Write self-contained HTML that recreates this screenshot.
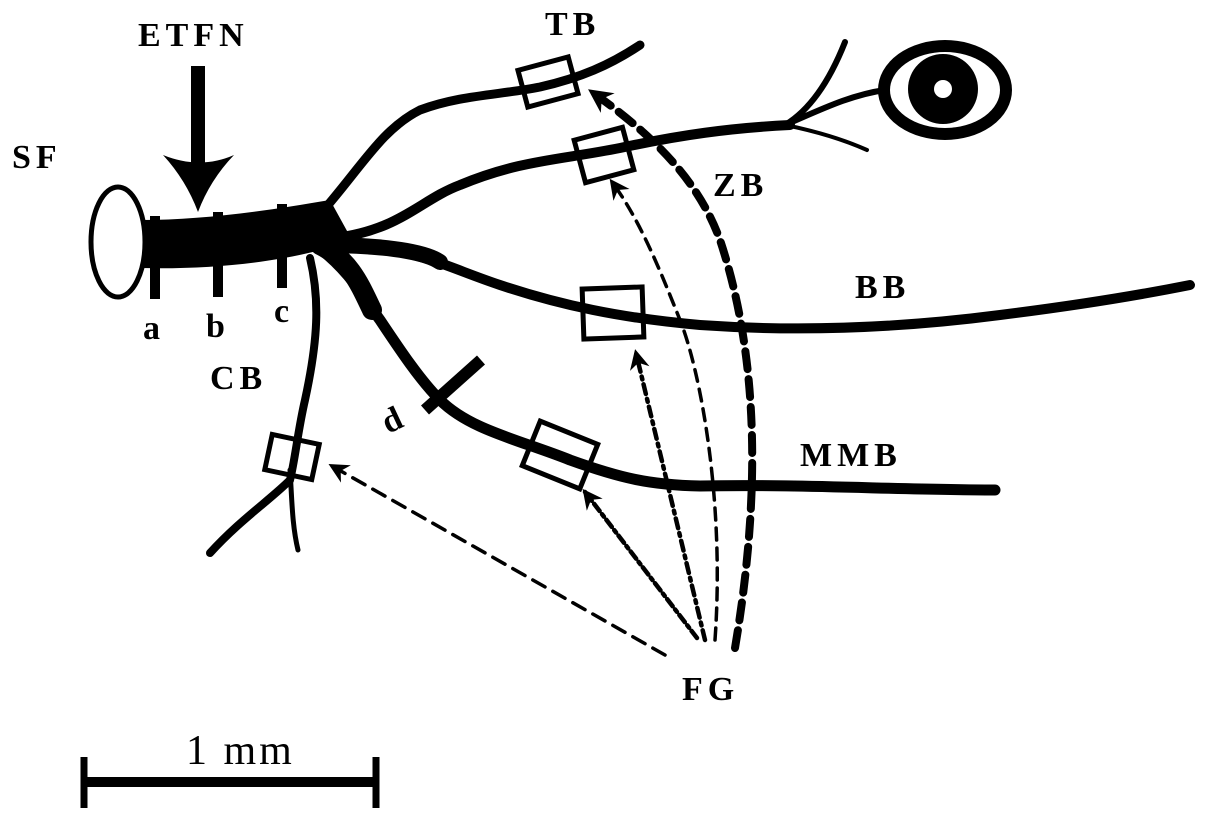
<!DOCTYPE html>
<html><head><meta charset="utf-8"><style>
html,body{margin:0;padding:0;background:#fff;width:1205px;height:828px;overflow:hidden}
svg{display:block}
text{font-family:"Liberation Serif",serif;font-weight:bold;fill:#000}
</style></head><body>
<svg width="1205" height="828" viewBox="0 0 1205 828" xmlns="http://www.w3.org/2000/svg">
<defs>
<marker id="ah" viewBox="0 0 10 10" refX="8" refY="5" markerWidth="22" markerHeight="20" orient="auto" markerUnits="userSpaceOnUse"><path d="M0,0 L10,5 L0,10 L3,5 Z" fill="#000"/></marker>
<marker id="ahb" viewBox="0 0 10 10" refX="8" refY="5" markerWidth="26" markerHeight="24" orient="auto" markerUnits="userSpaceOnUse"><path d="M0,0 L10,5 L0,10 L3,5 Z" fill="#000"/></marker>
</defs>
<g fill="none" stroke="#000" stroke-linecap="round">
<path d="M140,220 C200,220 260,212 330,200 L352,240 C300,260 220,270 140,268 Z" fill="#000" stroke="none"/>
<ellipse cx="118" cy="242" rx="27" ry="55" stroke-width="5" fill="#fff"/>
<path d="M315,220 C360,170 380,130 420,110 C460,95 500,95 540,87 C580,78 610,65 640,45" stroke-width="9"/>
<path d="M335,238 C400,230 420,200 460,185 C520,160 560,160 620,148 C680,135 730,128 790,125" stroke-width="10"/>
<path d="M785,125 C810,110 830,80 845,42" stroke-width="6"/>
<path d="M785,125 C810,130 840,138 867,150" stroke-width="4"/>
<path d="M785,125 C820,110 850,95 885,90" stroke-width="6"/>
<path d="M330,245 C420,248 440,265 500,285 C560,305 620,318 700,325 C800,332 900,328 1000,315 C1080,305 1140,295 1190,285" stroke-width="10"/>
<path d="M320,245 C400,245 430,255 440,262" stroke-width="16"/>
<path d="M315,245 C350,270 365,300 380,320 C400,350 420,380 440,400 C470,430 520,440 570,460 C620,478 650,485 700,486 C800,484 900,490 995,490" stroke-width="11"/>
<path d="M320,245 C350,260 360,285 372,310" stroke-width="20"/>
<path d="M310,258 C320,300 318,340 305,400 C298,430 295,460 290,480 C270,500 240,520 210,553" stroke-width="8"/>
<path d="M290,470 C292,500 292,525 298,550" stroke-width="5"/>
<path d="M155,216 V299 M218,212 V297 M282,204 V288" stroke-width="10" stroke-linecap="butt"/>
<path d="M425,410 L481,360" stroke-width="12" stroke-linecap="butt"/>
<ellipse cx="945" cy="90" rx="61" ry="44" stroke-width="12" fill="#fff"/>
<circle cx="943" cy="89" r="35" fill="#000" stroke="none"/>
<circle cx="943" cy="89" r="9" fill="#fff" stroke="none"/>
<g stroke-width="5" fill="none">
<rect x="-26" y="-19" width="52" height="38" transform="translate(548,82) rotate(-15)"/>
<rect x="-25" y="-22" width="50" height="44" transform="translate(604,155) rotate(-15)"/>
<rect x="-30" y="-25" width="60" height="50" transform="translate(613,313) rotate(-2)"/>
<rect x="-31" y="-24" width="62" height="48" transform="translate(560,455) rotate(22)"/>
<rect x="-24" y="-18" width="48" height="36" transform="translate(292,457) rotate(12)"/>
</g>
<path d="M665,655 L332,466" stroke-width="3.5" stroke-dasharray="14,9" marker-end="url(#ah)"/>
<path d="M697,638 L585,492" stroke-width="4.5" stroke-dasharray="9,4,3,4" marker-end="url(#ah)"/>
<path d="M705,640 L636,353" stroke-width="4.5" stroke-dasharray="10,5,3,5" marker-end="url(#ah)"/>
<path d="M715,640 C725,500 700,370 680,320 C660,270 640,220 612,182" stroke-width="3.5" stroke-dasharray="12,8" marker-end="url(#ah)"/>
<path d="M735,648 C760,500 760,360 720,240 C700,185 660,140 592,92" stroke-width="8" stroke-dasharray="18,10" marker-end="url(#ahb)"/>
<path d="M198,66 V175" stroke-width="14" stroke-linecap="butt"/>
<path d="M163,155 Q200,170 234,155 Q210,180 198,212 Q186,180 163,155 Z" fill="#000" stroke="none"/>
<path d="M84,782 H376" stroke-width="10" stroke-linecap="butt"/>
<path d="M84,757 V808 M376,757 V808" stroke-width="7" stroke-linecap="butt"/>
</g>
<g font-size="34" letter-spacing="5">
<text x="138" y="46">ETFN</text>
<text x="12" y="168">SF</text>
<text x="545" y="35">TB</text>
<text x="713" y="196">ZB</text>
<text x="855" y="298">BB</text>
<text x="800" y="466">MMB</text>
<text x="210" y="389">CB</text>
<text x="682" y="700">FG</text>
<text x="143" y="339" letter-spacing="0">a</text>
<text x="206" y="337" letter-spacing="0">b</text>
<text x="274" y="322" letter-spacing="0">c</text>
<text x="388" y="434" letter-spacing="0" transform="rotate(-25 388 434)">d</text>
<text x="186" y="764" style="font-weight:normal" font-size="42" letter-spacing="3">1 mm</text>
</g>
</svg>
</body></html>
